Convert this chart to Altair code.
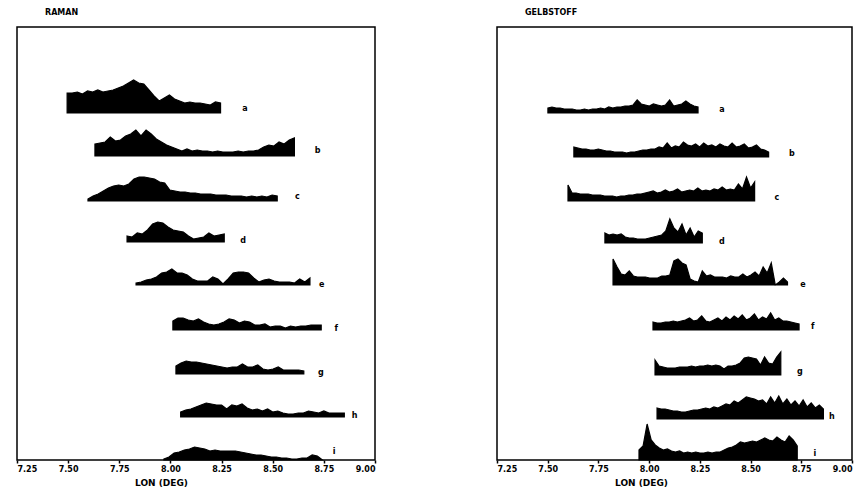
import altair as alt
import pandas as pd

LON_TICKS = [7.25, 7.50, 7.75, 8.00, 8.25, 8.50, 8.75, 9.00]
PROFILES = ["a", "b", "c", "d", "e", "f", "g", "h", "i"]

# ---------------- RAMAN panel ----------------
RAMAN_STEP = 0.025
RAMAN_START = [7.495, 7.631, 7.597, 7.788, 7.832, 8.012, 8.027, 8.050, 7.968]
RAMAN_BASE = [347, 304, 259, 218, 175, 130, 86, 43, 0]
RAMAN_A = [20, 20, 21, 19, 22, 21, 23, 21, 22, 23, 25, 27, 30, 33, 30, 29, 23, 17, 12, 15,
           18, 14, 12, 10, 11, 10, 10, 9, 8, 11, 10]
RAMAN_B = [12, 13, 14, 19, 15, 16, 20, 22, 26, 20, 26, 22, 17, 14, 11, 9, 7, 5, 7, 5,
           6, 5, 5, 4, 5, 4, 4, 4, 5, 4, 5, 5, 6, 9, 11, 10, 14, 12, 16, 18]
RAMAN_C = [2, 5, 7, 10, 13, 15, 16, 15, 17, 22, 24, 24, 23, 22, 19, 18, 11, 10, 9, 9,
           8, 8, 7, 7, 7, 6, 6, 6, 5, 5, 5, 4, 5, 4, 5, 4, 6, 5]
RAMAN_D = [6, 5, 9, 8, 12, 18, 20, 19, 15, 12, 11, 10, 6, 3, 4, 5, 9, 6, 7, 8]
RAMAN_E = [2, 3, 5, 6, 8, 12, 13, 16, 12, 12, 10, 6, 4, 4, 4, 8, 6, 1, 6, 12,
           13, 13, 12, 7, 3, 5, 6, 4, 3, 3, 3, 2, 6, 3, 7]
RAMAN_F = [9, 12, 12, 10, 9, 11, 8, 6, 5, 6, 8, 11, 10, 7, 9, 8, 5, 5, 6, 3,
           4, 4, 2, 4, 3, 4, 4, 5, 5, 5]
RAMAN_G = [8, 11, 13, 12, 12, 11, 10, 9, 8, 7, 6, 7, 7, 10, 7, 7, 9, 5, 4, 5,
           7, 4, 4, 4, 4, 3]
RAMAN_H = [5, 7, 8, 10, 12, 14, 13, 12, 12, 8, 12, 11, 13, 9, 7, 8, 6, 8, 5, 6,
           4, 3, 3, 4, 4, 6, 5, 4, 6, 4, 4, 4, 4]
RAMAN_I = [1, 3, 7, 8, 10, 11, 13, 12, 11, 9, 10, 9, 9, 9, 9, 8, 7, 6, 5, 5,
           4, 3, 3, 2, 2, 1, 1, 2, 2, 5, 4, 0]
RAMAN_VALUES = [RAMAN_A, RAMAN_B, RAMAN_C, RAMAN_D, RAMAN_E, RAMAN_F, RAMAN_G, RAMAN_H, RAMAN_I]
RAMAN_LABEL_LON = [8.364, 8.72, 8.62, 8.355, 8.74, 8.81, 8.735, 8.90, 8.80]
RAMAN_LABEL_Y = [351, 309, 263, 219, 175, 131, 87, 44, 8]

# ---------------- GELBSTOFF panel ----------------
GELB_STEP = 0.02
GELB_START = [7.501, 7.629, 7.600, 7.782, 7.822, 8.019, 8.029, 8.039, 7.950]
GELB_BASE = [347, 303, 259, 217, 175, 130, 85, 41, 0]
GELB_A = [5, 6, 5, 5, 4, 4, 4, 3, 3, 4, 3, 4, 4, 5, 4, 6, 5, 6, 6, 7,
          7, 8, 13, 9, 8, 7, 9, 8, 7, 8, 13, 7, 8, 9, 12, 9, 7, 6]
GELB_B = [10, 9, 8, 8, 7, 7, 8, 7, 6, 6, 5, 5, 5, 4, 5, 5, 6, 7, 7, 8,
          8, 10, 9, 14, 9, 11, 10, 15, 12, 11, 13, 10, 14, 11, 12, 10, 13, 11, 10, 14,
          10, 11, 13, 9, 10, 12, 8, 7, 5]
GELB_C = [16, 8, 8, 7, 7, 7, 6, 6, 6, 5, 5, 5, 4, 5, 5, 6, 6, 7, 7, 8,
          9, 10, 8, 9, 11, 9, 10, 12, 9, 10, 11, 10, 13, 10, 11, 10, 12, 11, 14, 11,
          12, 11, 17, 12, 24, 13, 19]
GELB_D = [10, 8, 9, 8, 9, 6, 5, 5, 4, 4, 4, 5, 6, 7, 8, 12, 24, 15, 11, 19,
          8, 15, 6, 12, 10]
GELB_E = [26, 18, 11, 10, 14, 9, 8, 8, 8, 7, 7, 7, 9, 9, 10, 24, 26, 22, 20, 6,
          4, 3, 14, 9, 10, 8, 8, 8, 7, 9, 8, 8, 11, 8, 10, 13, 9, 18, 12, 22,
          0, 3, 7, 3]
GELB_F = [8, 7, 7, 8, 8, 9, 8, 9, 10, 12, 9, 10, 14, 9, 8, 10, 12, 9, 13, 10,
          14, 11, 15, 10, 12, 16, 10, 13, 11, 17, 10, 12, 9, 9, 8, 7, 6]
GELB_G = [15, 9, 8, 7, 7, 7, 8, 8, 8, 9, 8, 9, 9, 10, 9, 10, 9, 6, 9, 9,
          10, 12, 17, 18, 17, 16, 10, 18, 12, 11, 18, 23]
GELB_H = [11, 10, 10, 9, 8, 8, 7, 7, 8, 9, 9, 10, 11, 10, 12, 11, 13, 15, 14, 18,
          16, 19, 22, 21, 20, 18, 19, 15, 22, 16, 23, 15, 20, 14, 18, 13, 19, 12, 16, 11,
          14, 10]
GELB_I = [10, 14, 36, 20, 15, 12, 10, 11, 9, 8, 9, 7, 8, 7, 8, 7, 7, 8, 7, 8,
          8, 10, 12, 13, 15, 18, 17, 18, 19, 18, 20, 22, 20, 19, 23, 20, 18, 24, 20, 14]
GELB_VALUES = [GELB_A, GELB_B, GELB_C, GELB_D, GELB_E, GELB_F, GELB_G, GELB_H, GELB_I]
GELB_LABEL_LON = [8.359, 8.704, 8.63, 8.359, 8.758, 8.807, 8.743, 8.901, 8.817]
GELB_LABEL_Y = [350, 306, 262, 218, 175, 133, 88, 43, 6]

FONT = "DejaVu Sans"


def build_panel(title, starts, step, bases, values, label_lon, label_y):
    rows = []
    for name, start, base, vals in zip(PROFILES, starts, bases, values):
        for k, v in enumerate(vals):
            rows.append({"profile": name, "lon": float(start + k * step),
                         "base": float(base), "top": float(base + v)})
    df = pd.DataFrame(rows)
    labels = pd.DataFrame({"profile": PROFILES, "lon": label_lon, "ly": label_y})

    xscale = alt.Scale(domain=[7.25, 9.0], nice=False, zero=False)
    yscale = alt.Scale(domain=[0, 433], nice=False, zero=False)

    area = alt.Chart(df).mark_area(color="black", interpolate="linear", opacity=1,
                                   stroke="black", strokeWidth=1.2,
                                   strokeJoin="miter").encode(
        x=alt.X("lon:Q", scale=xscale,
                axis=alt.Axis(values=LON_TICKS, format=".2f", title="LON (DEG)",
                              grid=False, domain=False, tickSize=3, tickColor="black",
                              tickWidth=1.5,
                              labelFont=FONT, labelFontSize=8, labelFontWeight="bold",
                              labelColor="black", labelPadding=2,
                              titleFont=FONT, titleFontSize=9, titleFontWeight="bold",
                              titleColor="black", titleX=144, titleY=22,
                              titleAlign="center", titleBaseline="middle")),
        y=alt.Y("top:Q", scale=yscale, axis=None, stack=None),
        y2=alt.Y2("base:Q"),
        detail="profile:N",
    )
    text = alt.Chart(labels).mark_text(font=FONT, fontSize=8, fontWeight="bold",
                                       color="black", align="center",
                                       baseline="middle").encode(
        x=alt.X("lon:Q", scale=xscale),
        y=alt.Y("ly:Q", scale=yscale),
        text="profile:N",
    )
    head = alt.Chart(pd.DataFrame({"t": [title]})).mark_text(
        font=FONT, fontSize=8, fontWeight="bold", color="black",
        align="left", baseline="middle").encode(
        x=alt.value(28), y=alt.value(-14), text="t:N")
    return alt.layer(area, text, head)


left = build_panel("RAMAN", RAMAN_START, RAMAN_STEP, RAMAN_BASE, RAMAN_VALUES,
                   RAMAN_LABEL_LON, RAMAN_LABEL_Y).properties(width=358, height=433)
right = build_panel("GELBSTOFF", GELB_START, GELB_STEP, GELB_BASE, GELB_VALUES,
                    GELB_LABEL_LON, GELB_LABEL_Y).properties(width=355, height=433)

chart = alt.hconcat(left, right, spacing=122, bounds="flush").properties(
    padding={"left": 15, "top": 8, "right": 0, "bottom": 0},
    background="white",
).configure_view(stroke="black", strokeWidth=1.5)

chart.save("out.html", embed_options={"renderer": "svg", "actions": False})
